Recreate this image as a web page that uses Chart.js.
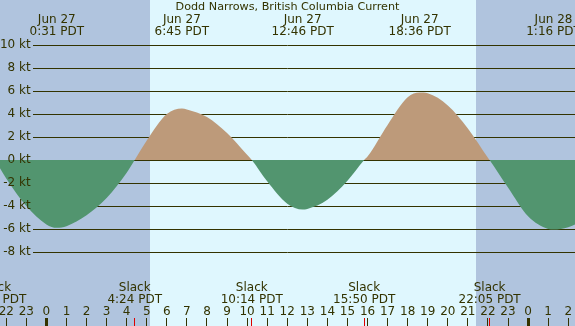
<!DOCTYPE html>
<html>
<head>
<meta charset="utf-8">
<script src="https://cdn.jsdelivr.net/npm/chart.js@4.4.1/dist/chart.umd.min.js"></script>
<style>
  html, body { margin: 0; padding: 0; background: #b0c4de; }
  canvas { display: block; }
</style>
</head>
<body>
<canvas id="chart" width="575" height="326"></canvas>
<script>
const title = 'Dodd Narrows, British Columbia Current';

// current in knots (hours from Jun 27 0:00 PDT)
const hours = [-2.55, -2, -1, 0, 0.517, 1, 2, 3, 4, 4.4, 5, 6, 6.75, 7, 8, 9, 10, 10.233,
  11, 12, 12.767, 13, 14, 15, 15.833, 16, 17, 18, 18.6, 19, 20, 21, 22, 22.083,
  23, 24, 25, 25.267, 26, 27];
const knots = [0, -1.6, -4.0, -5.6, -5.9, -5.75, -4.8, -3.3, -1.1, 0, 1.7, 4.0, 4.48, 4.4, 3.75, 2.35, 0.45, 0,
  -1.85, -3.8, -4.3, -4.25, -3.45, -1.8, 0, 0.3, 3.05, 5.45, 5.87, 5.8, 4.75, 2.75, 0.2, 0,
  -2.4, -4.9, -6.0, -6.05, -5.85, -5.0];

// max flood / max ebb
const peakHours = [0.517, 6.75, 12.767, 18.6, 25.267];
const peakLabels = [['Jun 27', '0:31 PDT'], ['Jun 27', '6:45 PDT'], ['Jun 27', '12:46 PDT'],
  ['Jun 27', '18:36 PDT'], ['Jun 28', '1:16 PDT']];

// slack water
const slackHours = [-2.55, 4.4, 10.233, 15.833, 22.083];
const slackLabels = [['Slack', '21:27 PDT'], ['Slack', '4:24 PDT'], ['Slack', '10:14 PDT'],
  ['Slack', '15:50 PDT'], ['Slack', '22:05 PDT']];

const hourTicks = [-2, -1, 0, 1, 2, 3, 4, 5, 6, 7, 8, 9, 10, 11, 12, 13, 14, 15, 16, 17, 18, 19, 20, 21, 22, 23, 24, 25, 26];
const hourLabels = ['22', '23', '0', '1', '2', '3', '4', '5', '6', '7', '8', '9', '10', '11', '12', '13', '14',
  '15', '16', '17', '18', '19', '20', '21', '22', '23', '0', '1', '2'];

const knotTicks = [-8, -6, -4, -2, 0, 2, 4, 6, 8, 10];
const knotLabels = ['-8 kt', '-6 kt', '-4 kt', '-2 kt', '0 kt', '2 kt', '4 kt', '6 kt', '8 kt', '10 kt'];

// sunrise, sunset
const daylight = [5.162, 21.405];

const nightColor = '#b0c4de';
const dayColor = '#dff7fe';
const floodColor = '#bd9a7a';
const ebbColor = '#52956f';
const inkColor = '#333300';
const slackTickColor = '#dd0000';
const fontFamily = '"DejaVu Sans", sans-serif';

const xRange = {min: -2.312, max: 26.338};

const dayNight = {
    id: 'dayNight',
    beforeDraw(chart) {
        const {ctx, width, height} = chart;
        const x = chart.scales.x;
        const x1 = x.getPixelForValue(daylight[0]);
        const x2 = x.getPixelForValue(daylight[1]);
        ctx.save();
        ctx.fillStyle = nightColor;
        ctx.fillRect(0, 0, width, height);
        ctx.fillStyle = dayColor;
        ctx.fillRect(x1, 0, x2 - x1, height);
        ctx.restore();
    },
    // keep the grid lines clear of the kt labels
    beforeDatasetsDraw(chart) {
        const {ctx, chartArea} = chart;
        ctx.save();
        ctx.fillStyle = nightColor;
        ctx.fillRect(0, chartArea.top, 33, chartArea.bottom - chartArea.top);
        ctx.restore();
    }
};

const noSidePadding = (height) => (scale) => {
    scale.height = height;
    scale.paddingLeft = 0;
    scale.paddingRight = 0;
};

const allHourTicks = hourTicks.concat(slackHours).sort((a, b) => a - b);

new Chart(document.getElementById('chart'), {
    type: 'line',
    data: {
        datasets: [{
            data: hours.map((h, i) => ({x: h, y: knots[i]})),
            borderWidth: 0,
            pointRadius: 0,
            cubicInterpolationMode: 'monotone',
            fill: {target: 'origin', above: floodColor, below: ebbColor}
        }]
    },
    options: {
        responsive: false,
        animation: false,
        events: [],
        layout: {padding: 0},
        plugins: {
            legend: {display: false},
            tooltip: {enabled: false},
            title: {
                display: true,
                text: title,
                color: inkColor,
                font: {family: fontFamily, size: 11.2, weight: 'normal', lineHeight: '12.6px'},
                padding: {top: 0.5, bottom: 0}
            }
        },
        scales: {
            x: {
                type: 'linear',
                position: 'bottom',
                weight: 1,
                min: xRange.min,
                max: xRange.max,
                afterBuildTicks: (scale) => { scale.ticks = allHourTicks.map(v => ({value: v})); },
                afterFit: noSidePadding(8),
                ticks: {
                    mirror: true,
                    padding: 0,
                    autoSkip: false,
                    maxRotation: 0,
                    color: inkColor,
                    font: {family: fontFamily, size: 12, lineHeight: '12.2px'},
                    callback: (value) => {
                        const i = hourTicks.indexOf(value);
                        return i < 0 ? '' : hourLabels[i];
                    }
                },
                grid: {
                    drawOnChartArea: false,
                    tickLength: 8,
                    tickColor: (c) => slackHours.includes(c.tick.value) ? slackTickColor : inkColor,
                    tickWidth: (c) => c.tick.value % 24 === 0 ? 3 : 1
                },
                border: {display: false}
            },
            xSlack: {
                type: 'linear',
                position: 'bottom',
                weight: 0,
                min: xRange.min,
                max: xRange.max,
                afterBuildTicks: (scale) => { scale.ticks = slackHours.map(v => ({value: v})); },
                afterFit: noSidePadding(48),
                ticks: {
                    padding: 12,
                    autoSkip: false,
                    maxRotation: 0,
                    color: inkColor,
                    font: {family: fontFamily, size: 12, lineHeight: '12px'},
                    callback: (value, i) => slackLabels[i]
                },
                grid: {display: false, drawTicks: false},
                border: {display: false}
            },
            xTop: {
                type: 'linear',
                position: 'top',
                min: xRange.min,
                max: xRange.max,
                afterBuildTicks: (scale) => { scale.ticks = peakHours.map(v => ({value: v})); },
                afterFit: noSidePadding(25.2),
                ticks: {
                    padding: 0,
                    autoSkip: false,
                    maxRotation: 0,
                    color: inkColor,
                    font: {family: fontFamily, size: 12, lineHeight: '12.6px'},
                    callback: (value, i) => peakLabels[i]
                },
                grid: {display: false, drawTicks: false},
                border: {display: false}
            },
            y: {
                type: 'linear',
                position: {x: -0.782},
                min: -9.565,
                max: 10.583,
                afterBuildTicks: (scale) => { scale.ticks = knotTicks.map(v => ({value: v})); },
                ticks: {
                    padding: 0,
                    z: 1,
                    color: inkColor,
                    font: {family: fontFamily, size: 12},
                    callback: (value, i) => knotLabels[i]
                },
                grid: {color: inkColor, lineWidth: 1, drawTicks: false},
                border: {display: false}
            }
        }
    },
    plugins: [dayNight]
});
</script>
</body>
</html>
